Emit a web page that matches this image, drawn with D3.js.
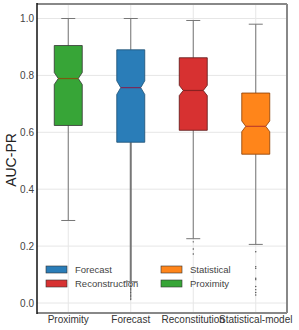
<!DOCTYPE html>
<html>
<head>
<meta charset="utf-8">
<script src="https://cdn.jsdelivr.net/npm/d3@7"></script>
<style>
  body { margin: 0; background: #fff; }
  text { font-family: "Liberation Sans", Arial, sans-serif; }
</style>
</head>
<body>
<script>
const w = 299, h = 330
const m = {top: 4, right: 12, bottom: 17, left: 37}

const categories = ['Proximity', 'Forecast', 'Reconstitution', 'Statistical-model']
const fills = ['#37a537', '#2a7db8', '#d73131', '#ff851a']
const edges = ['#333', '#1d4f72', '#5a1515', '#8a3c00']
const medianCols = ['#7a5a10', '#7a2a5a', '#8a2020', '#c0402a']
// box stats: lower whisker, q1, median, q3, upper whisker, notch half-width
const lowWhisk = [0.29, 0.075, 0.226, 0.206]
const q1 = [0.624, 0.565, 0.607, 0.523]
const medians = [0.789, 0.757, 0.747, 0.621]
const q3 = [0.905, 0.89, 0.862, 0.738]
const highWhisk = [1.0, 1.0, 0.993, 0.98]
const notch = [0.021, 0.024, 0.018, 0.019]
const outliers = [
  [],
  [0.068, 0.062, 0.057, 0.052, 0.047, 0.042, 0.037, 0.032, 0.027, 0.022, 0.017, 0.012],
  [0.215, 0.19, 0.172],
  [0.18, 0.128, 0.122, 0.087, 0.082, 0.058, 0.047, 0.037, 0.028]
]
const yTicks = [0.0, 0.2, 0.4, 0.6, 0.8, 1.0]
const legendItems = ['Forecast', 'Reconstruction', 'Statistical', 'Proximity']
const legendColors = ['#2a7db8', '#d73131', '#ff851a', '#37a537']

const svg = d3.select('body').append('svg').attr('width', w).attr('height', h)

const x = d3.scaleBand().domain(categories).range([m.left, w - m.right])
const y = d3.scaleLinear().domain([0, 1]).range([303, 18.5])

// grid
svg.append('g').selectAll('line').data(yTicks).enter().append('line')
  .attr('x1', m.left).attr('x2', w - m.right)
  .attr('y1', d => y(d)).attr('y2', d => y(d))
  .attr('stroke', '#e6e6e6').attr('stroke-width', 1)
svg.append('g').selectAll('line').data(categories).enter().append('line')
  .attr('x1', d => x(d) + x.bandwidth() / 2).attr('x2', d => x(d) + x.bandwidth() / 2)
  .attr('y1', m.top).attr('y2', h - m.bottom)
  .attr('stroke', '#e6e6e6').attr('stroke-width', 1)

const bw = 28
const nw = 4
const boxes = svg.append('g').selectAll('g').data(categories).enter().append('g')

// whiskers
boxes.append('line')
  .attr('x1', d => x(d) + x.bandwidth() / 2).attr('x2', d => x(d) + x.bandwidth() / 2)
  .attr('y1', (d, i) => y(highWhisk[i])).attr('y2', (d, i) => y(q3[i]))
  .attr('stroke', '#777').attr('stroke-width', 1)
boxes.append('line')
  .attr('x1', d => x(d) + x.bandwidth() / 2).attr('x2', d => x(d) + x.bandwidth() / 2)
  .attr('y1', (d, i) => y(q1[i])).attr('y2', (d, i) => y(lowWhisk[i]))
  .attr('stroke', '#777').attr('stroke-width', (d, i) => i == 1 ? 2 : 1)
boxes.append('line')
  .attr('x1', d => x(d) + x.bandwidth() / 2 - 7).attr('x2', d => x(d) + x.bandwidth() / 2 + 7)
  .attr('y1', (d, i) => y(highWhisk[i])).attr('y2', (d, i) => y(highWhisk[i]))
  .attr('stroke', '#777').attr('stroke-width', 1)
boxes.append('line')
  .attr('x1', d => x(d) + x.bandwidth() / 2 - 7).attr('x2', d => x(d) + x.bandwidth() / 2 + 7)
  .attr('y1', (d, i) => y(lowWhisk[i])).attr('y2', (d, i) => y(lowWhisk[i]))
  .attr('stroke', '#777').attr('stroke-width', 1)

// notched boxes
boxes.append('path')
  .attr('d', (d, i) => {
    const c = x(d) + x.bandwidth() / 2
    const l = c - bw / 2, r = c + bw / 2
    return d3.line()([
      [l, y(q3[i])], [r, y(q3[i])], [r, y(medians[i] + notch[i])], [r - nw, y(medians[i])],
      [r, y(medians[i] - notch[i])], [r, y(q1[i])], [l, y(q1[i])], [l, y(medians[i] - notch[i])],
      [l + nw, y(medians[i])], [l, y(medians[i] + notch[i])]
    ]) + 'Z'
  })
  .attr('fill', (d, i) => fills[i])
  .attr('stroke', (d, i) => edges[i]).attr('stroke-width', 0.8)
boxes.append('line')
  .attr('x1', d => x(d) + x.bandwidth() / 2 - bw / 2 + nw).attr('x2', d => x(d) + x.bandwidth() / 2 + bw / 2 - nw)
  .attr('y1', (d, i) => y(medians[i])).attr('y2', (d, i) => y(medians[i]))
  .attr('stroke', (d, i) => medianCols[i]).attr('stroke-width', 1.2)

// outliers
boxes.each(function (d, i) {
  d3.select(this).selectAll('circle').data(outliers[i]).enter().append('circle')
    .attr('cx', x(d) + x.bandwidth() / 2).attr('cy', v => y(v))
    .attr('r', 0.7).attr('fill', '#444')
})

// frame
svg.append('line').attr('x1', m.left).attr('x2', w - m.right).attr('y1', m.top).attr('y2', m.top)
  .attr('stroke', '#888').attr('stroke-width', 2)
svg.append('line').attr('x1', w - m.right).attr('x2', w - m.right).attr('y1', m.top).attr('y2', h - m.bottom)
  .attr('stroke', '#888').attr('stroke-width', 2)
svg.append('line').attr('x1', m.left).attr('x2', w - m.right).attr('y1', h - m.bottom).attr('y2', h - m.bottom)
  .attr('stroke', '#888').attr('stroke-width', 2)
svg.append('line').attr('x1', m.left).attr('x2', m.left).attr('y1', m.top - 1).attr('y2', h - m.bottom + 1)
  .attr('stroke', '#111').attr('stroke-width', 1.5)

// axes
const yAxis = d3.axisLeft(y).tickValues(yTicks).tickFormat(d3.format('.1f')).tickSize(0).tickPadding(3)
svg.append('g').attr('transform', 'translate(' + m.left + ',0)').call(yAxis)
  .call(g => g.select('.domain').remove())
  .selectAll('text').attr('font-size', 10).attr('fill', '#444')
const xAxis = d3.axisBottom(x).tickSize(0).tickPadding(3)
svg.append('g').attr('transform', 'translate(0,' + (h - m.bottom) + ')').call(xAxis)
  .call(g => g.select('.domain').remove())
  .selectAll('text').attr('font-size', 10).attr('fill', '#333')

svg.append('text').attr('transform', 'translate(16,160) rotate(-90)')
  .attr('text-anchor', 'middle').attr('font-size', 14).attr('fill', '#222').text('AUC-PR')

// legend
const lg = svg.append('g').selectAll('g').data(legendItems).enter().append('g')
  .attr('transform', (d, i) => 'translate(' + (i < 2 ? 46 : 161) + ',' + (266 + (i % 2) * 14) + ')')
lg.append('rect').attr('width', 21).attr('height', 7)
  .attr('fill', (d, i) => legendColors[i]).attr('stroke', '#333').attr('stroke-width', 0.6)
lg.append('text').attr('x', 29).attr('y', 7).attr('font-size', 9.5).attr('fill', '#444').text(d => d)
</script>
</body>
</html>
